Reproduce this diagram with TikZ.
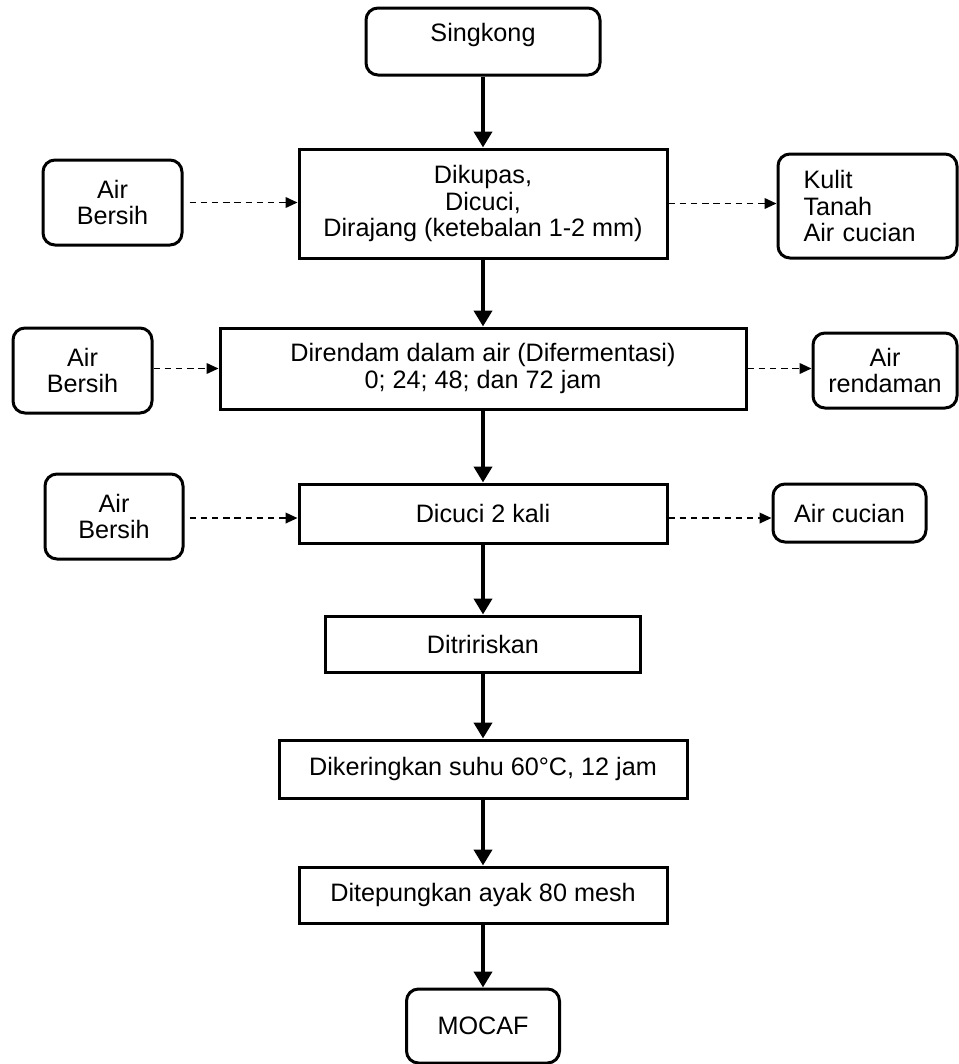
\documentclass[tikz,border=0pt]{standalone}
\usepackage{fontspec}
\setmainfont{Liberation Sans}
\usetikzlibrary{arrows.meta}

\tikzset{every picture/.style={line width=0.75pt}}
\tikzset{
  proses/.style={draw, line width=2.25pt, inner sep=0pt, align=center, font=\fontsize{18.9}{20}\selectfont},
  ujung/.style={proses, rounded corners=9pt},
  alir/.style={line width=3.5pt, -{Triangle[length=12pt,width=13.5pt]}},
  buang/.style={line width=1.3pt, dash pattern=on 4.8pt off 3.6pt, -{Triangle[length=9pt,width=8pt]}},
}

\begin{document}
\begin{tikzpicture}[x=0.75pt,y=0.75pt,yscale=-1,xscale=1]
\useasboundingbox (0,0) rectangle (958,1064);

%Shape: Rounded Rect [Singkong]
\node [ujung, minimum width=175.5pt, minimum height=50.25pt, text height=13pt, text depth=13pt] (sing) at (483,41.5) {Singkong};
%Shape: Rectangle [kupas]
\node [proses, minimum width=276pt, minimum height=81.75pt] (kupas) at (483,203.5) {Dikupas,\\Dicuci,\\Dirajang (ketebalan 1-2 mm)};
%Shape: Rounded Rect [air bersih 1]
\node [ujung, minimum width=104.25pt, minimum height=63.75pt] (air1) at (112.5,202.5) {Air\\Bersih};
%Shape: Rounded Rect [kulit]
\node [ujung, minimum width=134.25pt, minimum height=78pt, align=left, text width=96pt] (kulit) at (867.5,206) {Kulit\\Tanah\\Air cucian};
%Shape: Rectangle [rendam]
\node [proses, minimum width=394.5pt, minimum height=60.75pt] (rendam) at (483,368.5) {Direndam dalam air (Difermentasi)\\0; 24; 48; dan 72 jam};
%Shape: Rounded Rect [air bersih 2]
\node [ujung, minimum width=104.25pt, minimum height=63.75pt] (air2) at (82.5,370.5) {Air\\Bersih};
%Shape: Rounded Rect [air rendaman]
\node [ujung, minimum width=108pt, minimum height=56.25pt] (rendaman) at (885,370.5) {Air\\rendaman};
%Shape: Rectangle [cuci]
\node [proses, minimum width=276pt, minimum height=44.25pt] (cuci) at (483,513.5) {Dicuci 2 kali};
%Shape: Rounded Rect [air bersih 3]
\node [ujung, minimum width=103.5pt, minimum height=63.75pt] (air3) at (114,516.5) {Air\\Bersih};
%Shape: Rounded Rect [air cucian]
\node [ujung, minimum width=114.75pt, minimum height=43.5pt] (cucian) at (849.5,513) {Air cucian};
%Shape: Rectangle [tiris]
\node [proses, minimum width=236.25pt, minimum height=42pt] (tiris) at (483,644) {Ditririskan};
%Shape: Rectangle [kering]
\node [proses, minimum width=306pt, minimum height=43.5pt] (kering) at (483,769) {Dikeringkan suhu 60°C, 12 jam};
%Shape: Rectangle [tepung]
\node [proses, minimum width=276pt, minimum height=42pt] (tepung) at (483,895) {Ditepungkan ayak 80 mesh};
%Shape: Rounded Rect [MOCAF]
\node [ujung, minimum width=114.75pt, minimum height=55.5pt] (mocaf) at (483,1026) {MOCAF};

%Straight Lines [alur utama]
\draw [alir] (sing.south) -- (kupas.north);
\draw [alir] (kupas.south) -- (rendam.north);
\draw [alir] (rendam.south) -- (cuci.north);
\draw [alir] (cuci.south) -- (tiris.north);
\draw [alir] (tiris.south) -- (kering.north);
\draw [alir] (kering.south) -- (tepung.north);
\draw [alir] (tepung.south) -- (mocaf.north);

%Straight Lines [masuk / keluar]
\coordinate (c3a) at ([yshift=3.4pt]cuci.west);
\coordinate (c3b) at ([yshift=3.4pt]cuci.east);
\draw [buang, shorten <=4.5pt] (air1.east) -- (air1.east -| kupas.west);
\draw [buang] (kupas.east) -- (kupas.east -| kulit.west);
\draw [buang] (rendam.west -| air2.east) -- (rendam.west);
\draw [buang] (rendam.east) -- (rendam.east -| rendaman.west);
\draw [buang, shorten <=3.75pt] (c3a -| air3.east) -- (c3a);
\draw [buang] (c3b) -- (c3b -| cucian.west);

\end{tikzpicture}
\end{document}
